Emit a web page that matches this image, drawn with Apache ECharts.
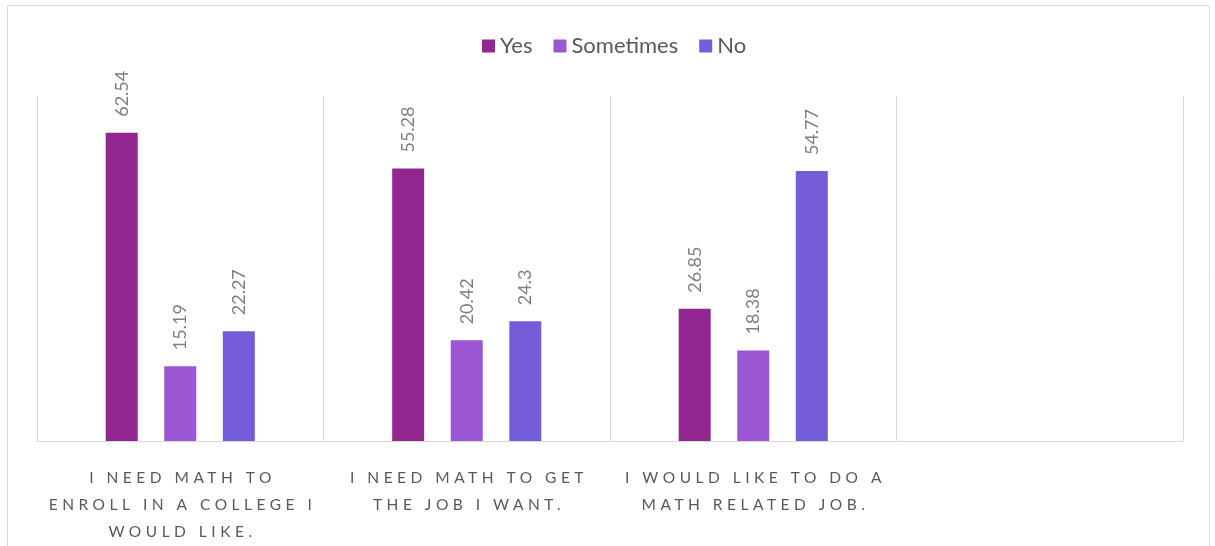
<!DOCTYPE html>
<html>
<head>
<meta charset="utf-8">
<script src="https://cdn.jsdelivr.net/npm/echarts@6/dist/echarts.min.js"></script>
<style>
  html, body { margin: 0; padding: 0; background: #ffffff; }
  #chart { width: 1215px; height: 546px; }
</style>
</head>
<body>
<div id="chart"></div>
<script>
// Survey statements (fourth slot left empty) and the share of answers, in percent.
const categories = [
  'I NEED MATH TO\nENROLL IN A COLLEGE I\nWOULD LIKE.',
  'I NEED MATH TO GET\nTHE JOB I WANT.',
  'I WOULD LIKE TO DO A\nMATH RELATED JOB.',
  ''
];
const seriesNames = ['Yes', 'Sometimes', 'No'];
const yesValues = [62.54, 55.28, 26.85];
const sometimesValues = [15.19, 20.42, 18.38];
const noValues = [22.27, 24.3, 54.77];

const colors = ['#92278F', '#9B57D3', '#755DD9'];

// Category labels use wide tracking. zrender has no letter-spacing style,
// so text set in the tracked font stack gets it applied at draw time.
// The font is re-assigned after each change so the new spacing takes effect.
const TRACKED_STACK = 'Lato, "DejaVu Sans"';
const TRACKING = 4.5;
(function () {
  const proto = CanvasRenderingContext2D.prototype;
  if (!('letterSpacing' in proto)) return;
  const rawFillText = proto.fillText;
  proto.fillText = function (text, x, y, maxWidth) {
    const font = this.font;
    const tracked = font.indexOf('DejaVu Sans') >= 0;
    const spacing = tracked ? TRACKING + 'px' : '0px';
    if (this.letterSpacing !== spacing) {
      this.letterSpacing = spacing;
      this.font = font;
    }
    const dx = tracked && this.textAlign === 'center' ? TRACKING / 2 : 0;
    return maxWidth === undefined ? rawFillText.call(this, text, x + dx, y)
                                  : rawFillText.call(this, text, x + dx, y, maxWidth);
  };
})();

const chart = echarts.init(document.getElementById('chart'), null, { renderer: 'canvas' });

function barSeries(name, values, color) {
  return {
    name: name,
    type: 'bar',
    data: values,
    barWidth: 32,
    barGap: '83%',
    itemStyle: { color: color },
    label: {
      show: true,
      position: 'top',
      rotate: 90,
      align: 'left',
      verticalAlign: 'middle',
      distance: 16,
      color: '#7f7f7f',
      fontFamily: 'Lato, sans-serif',
      fontSize: 18
    }
  };
}

chart.setOption({
  animation: false,
  backgroundColor: '#ffffff',
  color: colors,
  textStyle: { fontFamily: 'Lato, sans-serif' },
  graphic: [{
    type: 'rect',
    silent: true,
    shape: { x: 7.5, y: 5.5, width: 1202, height: 600 },
    style: { fill: 'none', stroke: '#d9d9d9', lineWidth: 1 }
  }],
  legend: {
    top: 30,
    left: 477,
    itemWidth: 13,
    itemHeight: 13,
    itemGap: 21,
    icon: 'rect',
    textStyle: { color: '#595959', fontSize: 22, fontFamily: 'Lato, sans-serif' },
    data: seriesNames
  },
  grid: { left: 37, right: 32, top: 96, bottom: 105, containLabel: false },
  xAxis: {
    type: 'category',
    data: categories,
    boundaryGap: true,
    axisLine: { show: true, lineStyle: { color: '#d9d9d9', width: 1 } },
    axisTick: { show: false },
    splitLine: { show: true, lineStyle: { color: '#d9d9d9', width: 1 } },
    axisLabel: {
      interval: 0,
      margin: 23,
      color: '#595959',
      fontSize: 15.5,
      lineHeight: 27,
      fontFamily: TRACKED_STACK,
      align: 'center'
    }
  },
  yAxis: {
    type: 'value',
    min: 0,
    max: 70,
    show: false,
    splitLine: { show: false }
  },
  series: [
    barSeries(seriesNames[0], yesValues, colors[0]),
    barSeries(seriesNames[1], sometimesValues, colors[1]),
    barSeries(seriesNames[2], noValues, colors[2])
  ]
});
</script>
</body>
</html>
